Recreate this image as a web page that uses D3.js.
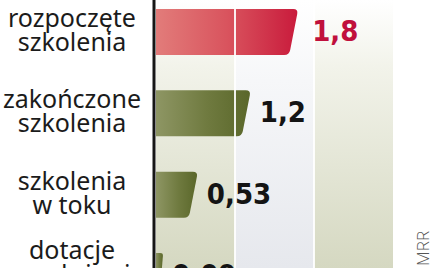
<!DOCTYPE html>
<html>
<head>
<meta charset="utf-8">
<script src="https://cdn.jsdelivr.net/npm/d3@7"></script>
<style>
  html, body { margin: 0; padding: 0; background: #fff; overflow: hidden; }
  svg { display: block; }
</style>
</head>
<body>
<div id="chart"></div>
<script>
const W = 439, H = 268;

// data
const categoryLines = [
  ['rozpoczęte', 'szkolenia'],
  ['zakończone', 'szkolenia'],
  ['szkolenia', 'w toku'],
  ['dotacje', 'na założenie', 'firmy']
];
const values = [1.8, 1.2, 0.53, 0.09];
const gridTicks = [0, 1, 2, 3];
const sourceText = 'Źródło: MRR';

const categories = categoryLines.map(l => l.join(' '));
const fmt = v => String(v).replace('.', ',');

const svg = d3.select('#chart').append('svg')
  .attr('width', W)
  .attr('height', H);

const defs = svg.append('defs');

function gradient(id, stops, vertical) {
  const g = defs.append('linearGradient')
    .attr('id', id)
    .attr('x1', 0).attr('y1', 0)
    .attr('x2', vertical ? 0 : 1).attr('y2', vertical ? 1 : 0);
  stops.forEach(s => g.append('stop').attr('offset', s[0]).attr('stop-color', s[1]));
}

gradient('bandBeige', [[0, '#ffffff'], [0.25, '#f2f3ea'], [1, '#d5d8c1']], true);
gradient('bandBlue', [[0, '#ffffff'], [0.3, '#f6f7f9'], [1, '#e6e8ed']], true);
gradient('barRed', [[0, '#e27c7a'], [0.5, '#d9545e'], [1, '#c91b3c']], false);
gradient('barOlive', [[0, '#8e9664'], [0.55, '#6f7a3f'], [1, '#5a672a']], false);

const x = d3.scaleLinear()
  .domain([0, 3])
  .range([156, 393]);

const y = d3.scaleBand()
  .domain(categories)
  .range([-8.6, 316.6])
  .paddingInner(0.434)
  .paddingOuter(0.217);

// background bands
svg.append('g')
  .selectAll('rect')
  .data(gridTicks.slice(0, -1))
  .join('rect')
  .attr('x', d => x(d))
  .attr('y', 0)
  .attr('width', d => x(d + 1) - x(d))
  .attr('height', H)
  .attr('fill', d => d === 1 ? 'url(#bandBlue)' : 'url(#bandBeige)');

// bars with slanted, rounded right end
const SLANT = 9, R = 5;
function barPath(v, cat) {
  const x0 = x(0);
  const y0 = y(cat), y1 = y(cat) + y.bandwidth();
  const h = y1 - y0;
  const xt = x(v);
  const s = Math.min(SLANT, (xt - x0) * 0.5);
  const r = Math.min(R, (xt - x0) * 0.4);
  const xb = xt - s;
  const dx = r * s / h;
  return `M${x0},${y0} H${xt - r} Q${xt},${y0} ${xt - dx},${y0 + r} ` +
    `L${xb + dx},${y1 - r} Q${xb},${y1} ${xb - r},${y1} H${x0} Z`;
}

svg.append('g')
  .selectAll('path')
  .data(values)
  .join('path')
  .attr('d', (d, i) => barPath(d, categories[i]))
  .attr('fill', (d, i) => i === 0 ? 'url(#barRed)' : 'url(#barOlive)');

// white grid lines drawn over the bars
svg.append('g')
  .selectAll('line')
  .data(gridTicks.slice(1, -1))
  .join('line')
  .attr('x1', d => x(d)).attr('x2', d => x(d))
  .attr('y1', 0).attr('y2', H)
  .attr('stroke', '#ffffff')
  .attr('stroke-opacity', 0.9)
  .attr('stroke-width', 2);

// value labels
svg.append('g')
  .selectAll('text')
  .data(values)
  .join('text')
  .attr('x', (d, i) => x(d) + (i === 0 ? 14 : 9))
  .attr('y', (d, i) => y(categories[i]) + y.bandwidth() / 2 + 9)
  .attr('font-family', '"DejaVu Sans Condensed", "DejaVu Sans", sans-serif')
  .attr('font-stretch', 'condensed')
  .attr('font-weight', 'bold')
  .attr('font-size', 29)
  .attr('fill', (d, i) => i === 0 ? '#c0103c' : '#141414')
  .text(d => fmt(d));

// vertical axis line
const yAxis = d3.axisLeft(y).tickSize(0).tickSizeOuter(0).tickFormat('');
const axisG = svg.append('g')
  .attr('transform', `translate(153.5,0)`)
  .call(yAxis);
axisG.select('.domain')
  .attr('stroke', '#161616')
  .attr('stroke-width', 3);

// category labels
const LH = 24;
const labels = svg.append('g')
  .attr('font-family', '"Noto Sans", "Open Sans", sans-serif')
  .attr('font-size', 25)
  .attr('fill', '#1b1b1b')
  .attr('text-anchor', 'middle');

categoryLines.forEach((lines, i) => {
  const c = y(categories[i]) + y.bandwidth() / 2;
  const first = c + 7 - (lines.length - 1) * LH / 2;
  const t = labels.append('text');
  lines.forEach((ln, j) => {
    t.append('tspan')
      .attr('x', 72)
      .attr('y', first + j * LH)
      .text(ln);
  });
});

// source, rotated
svg.append('text')
  .attr('transform', 'translate(429,231) rotate(-90)')
  .attr('text-anchor', 'end')
  .attr('font-family', '"Open Sans", "Noto Sans", sans-serif')
  .attr('font-weight', 300)
  .attr('font-size', 17)
  .attr('fill', '#555')
  .text(sourceText);
</script>
</body>
</html>
